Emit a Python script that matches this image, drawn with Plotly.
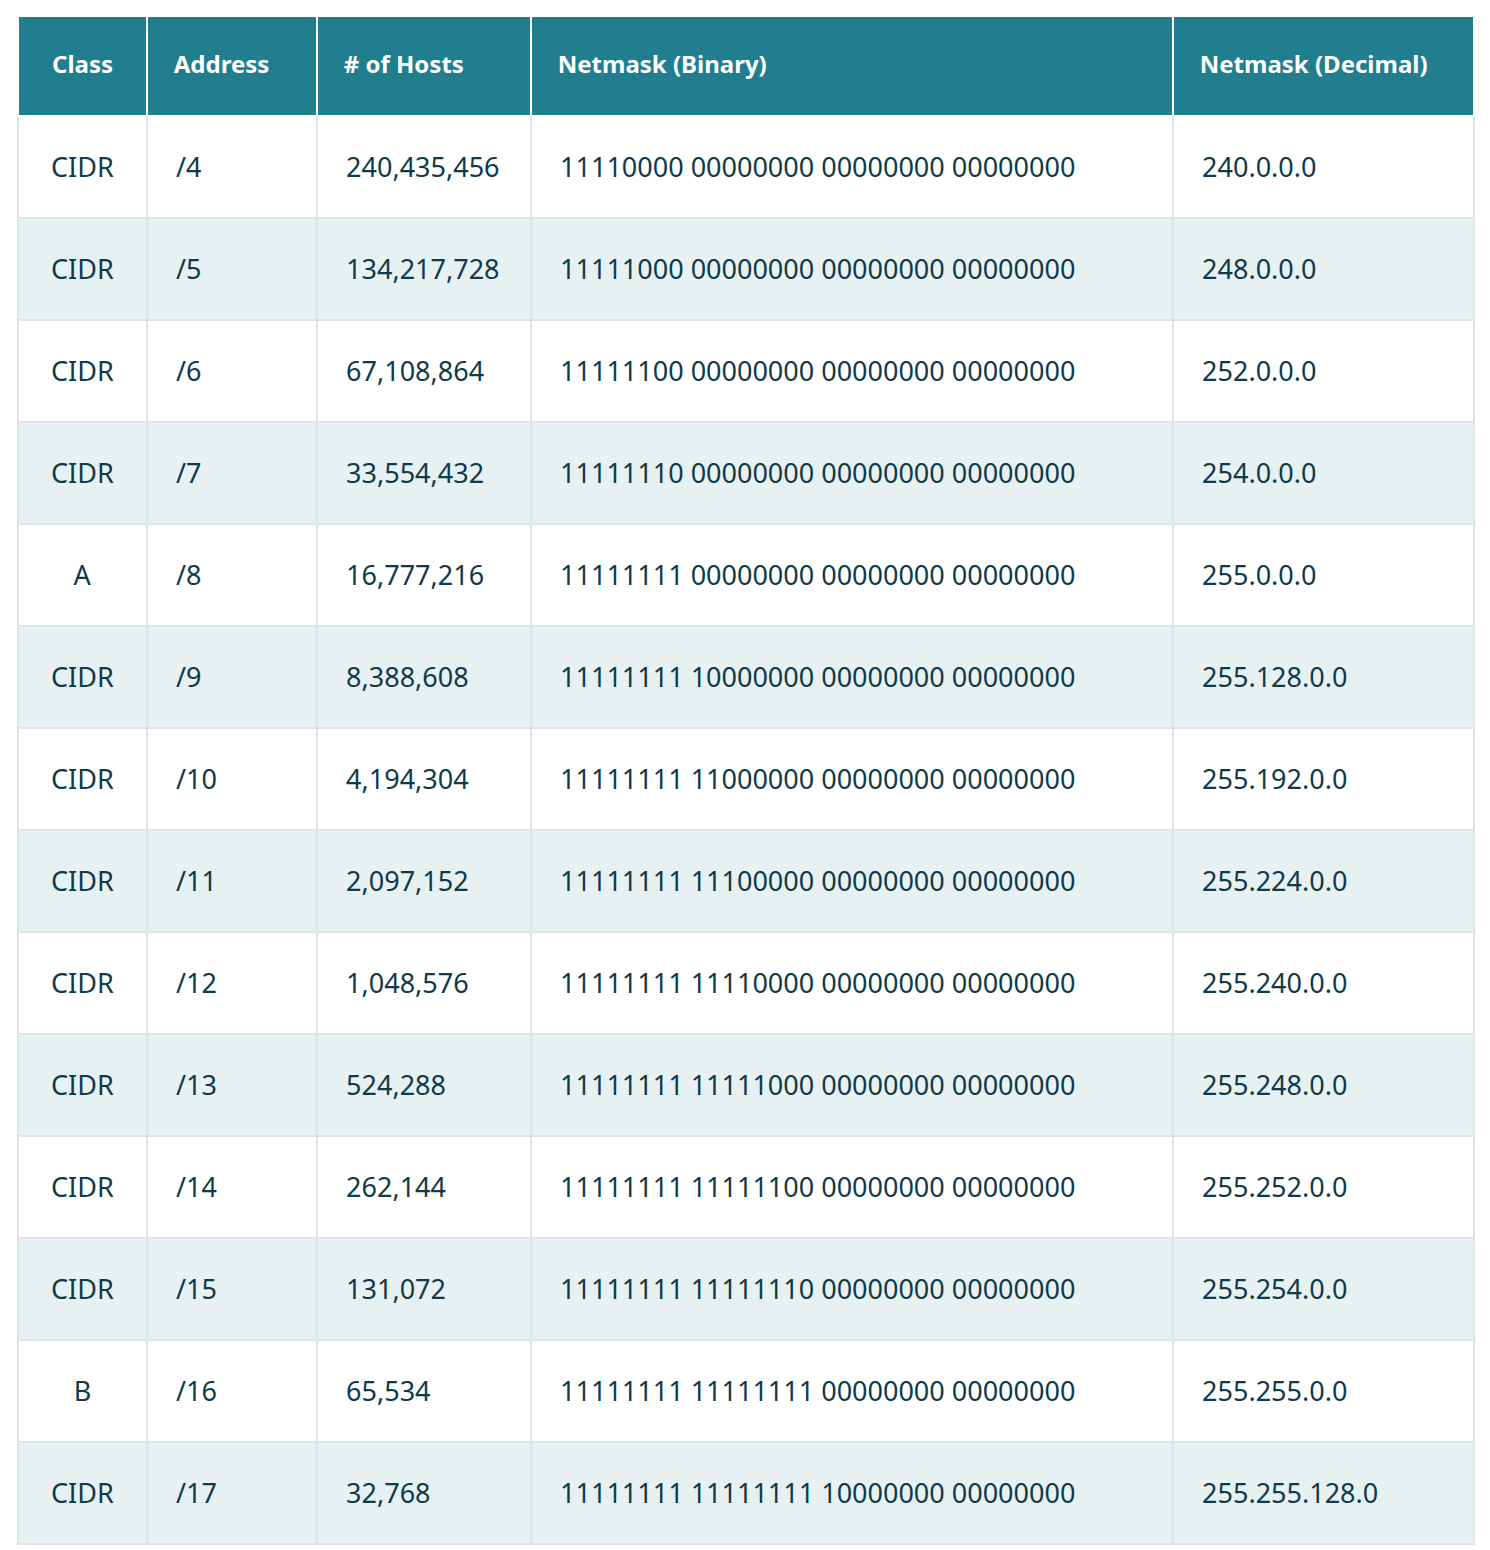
import plotly.graph_objects as go

# table data
classes = ["CIDR", "CIDR", "CIDR", "CIDR", "A", "CIDR", "CIDR", "CIDR", "CIDR", "CIDR", "CIDR", "CIDR", "B", "CIDR"]
addresses = ["/4", "/5", "/6", "/7", "/8", "/9", "/10", "/11", "/12", "/13", "/14", "/15", "/16", "/17"]
hosts = ["240,435,456", "134,217,728", "67,108,864", "33,554,432", "16,777,216", "8,388,608",
         "4,194,304", "2,097,152", "1,048,576", "524,288", "262,144", "131,072", "65,534", "32,768"]
netmask_bin = [
    "11110000 00000000 00000000 00000000",
    "11111000 00000000 00000000 00000000",
    "11111100 00000000 00000000 00000000",
    "11111110 00000000 00000000 00000000",
    "11111111 00000000 00000000 00000000",
    "11111111 10000000 00000000 00000000",
    "11111111 11000000 00000000 00000000",
    "11111111 11100000 00000000 00000000",
    "11111111 11110000 00000000 00000000",
    "11111111 11111000 00000000 00000000",
    "11111111 11111100 00000000 00000000",
    "11111111 11111110 00000000 00000000",
    "11111111 11111111 00000000 00000000",
    "11111111 11111111 10000000 00000000",
]
netmask_dec = ["240.0.0.0", "248.0.0.0", "252.0.0.0", "254.0.0.0", "255.0.0.0", "255.128.0.0",
               "255.192.0.0", "255.224.0.0", "255.240.0.0", "255.248.0.0", "255.252.0.0",
               "255.254.0.0", "255.255.0.0", "255.255.128.0"]
headers = ["Class", "Address", "# of Hosts", "Netmask (Binary)", "Netmask (Decimal)"]

TEAL = "#217e8e"
TEXT = "#0e3a4a"
STRIPE = "#e8f1f2"
GRID = "#dbe4e6"

pad = "\u00a0" * 3


def cell_text(v, size, left=True, bold=False):
    # spacer line (in the smaller base font) pushes the real text to mid-row
    body = "<b>" + v + "</b>" if bold else v
    return ("\u00a0<br><span style='font-size:%dpx'>" % size) + (pad if left else "") + body + "</span>"


row_fill = ["white" if i % 2 == 0 else STRIPE for i in range(len(classes))]
aligns = ["center", "left", "left", "left", "left"]

fig = go.Figure(go.Table(
    columnwidth=[129, 170, 214, 642, 301],
    header=dict(
        values=[cell_text(h, 24, left=(i > 0), bold=True) for i, h in enumerate(headers)],
        fill_color=TEAL,
        line=dict(color="white", width=2),
        font=dict(family="Noto Sans", size=21, color="white"),
        align=aligns,
        height=100,
    ),
    cells=dict(
        values=[[cell_text(v, 27, left=(i > 0)) for v in col]
                for i, col in enumerate([classes, addresses, hosts, netmask_bin, netmask_dec])],
        fill_color=[row_fill] * 5,
        line=dict(color=GRID, width=2),
        font=dict(family="Noto Sans", size=22, color=TEXT),
        align=aligns,
        height=102,
    ),
))

fig.update_layout(
    width=1482, height=1542,
    margin=dict(l=10, r=16, t=8, b=0),
    paper_bgcolor="white",
)

fig.write_html("out.html")
